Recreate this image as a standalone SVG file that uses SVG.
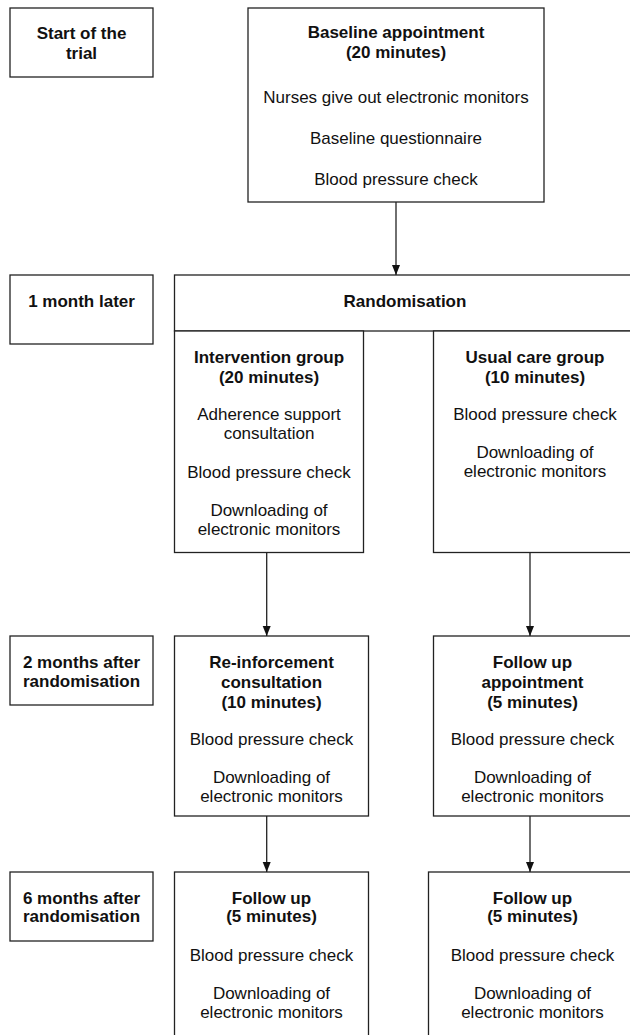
<svg xmlns="http://www.w3.org/2000/svg" width="630" height="1035" viewBox="0 0 630 1035">
<style>
rect.b{fill:#fff;stroke:#222;stroke-width:1.3}
text{font-family:"Liberation Sans",Arial,sans-serif;font-size:17px;fill:#111;text-anchor:middle}
text.h{font-weight:bold}
.c line{stroke:#222;stroke-width:1.3}
</style>
<defs>
<marker id="ah" markerUnits="userSpaceOnUse" markerWidth="10" markerHeight="10" viewBox="0 0 10 10" refX="10" refY="5" orient="auto">
<path d="M0,1 L10,5 L0,9 Z" fill="#111"/>
</marker>
</defs>
<rect width="630" height="1035" fill="#fff"/>

<g id="label-start">
<rect class="b" x="10" y="8" width="143" height="69"/>
<text class="h" x="81.5" y="39">Start of the</text>
<text class="h" x="81.5" y="59">trial</text>
</g>
<g id="label-1month">
<rect class="b" x="10" y="275" width="143" height="69"/>
<text class="h" x="81.5" y="307">1 month later</text>
</g>
<g id="label-2months">
<rect class="b" x="10" y="636" width="143" height="69"/>
<text class="h" x="81.5" y="667.7">2 months after</text>
<text class="h" x="81.5" y="686.7">randomisation</text>
</g>
<g id="label-6months">
<rect class="b" x="10" y="872" width="143" height="69"/>
<text class="h" x="81.5" y="903.7">6 months after</text>
<text class="h" x="81.5" y="922">randomisation</text>
</g>

<g id="baseline">
<rect class="b" x="248" y="8" width="296" height="194"/>
<text class="h" x="396" y="38">Baseline appointment</text>
<text class="h" x="396" y="58">(20 minutes)</text>
<text x="396" y="103">Nurses give out electronic monitors</text>
<text x="396" y="144">Baseline questionnaire</text>
<text x="396" y="185">Blood pressure check</text>
</g>

<g id="randomisation">
<rect class="b" x="174.5" y="275" width="463" height="56"/>
<text class="h" x="405" y="307">Randomisation</text>
</g>

<g id="intervention">
<rect class="b" x="174.5" y="331" width="189" height="221.5"/>
<text class="h" x="269" y="362.7">Intervention group</text>
<text class="h" x="269" y="382.7">(20 minutes)</text>
<text x="269" y="420.3">Adherence support</text>
<text x="269" y="439.3">consultation</text>
<text x="269" y="477.7">Blood pressure check</text>
<text x="269" y="516">Downloading of</text>
<text x="269" y="535.3">electronic monitors</text>
</g>

<g id="usualcare">
<rect class="b" x="433.5" y="331" width="204" height="221.5"/>
<text class="h" x="535" y="362.7">Usual care group</text>
<text class="h" x="535" y="382.7">(10 minutes)</text>
<text x="535" y="420.3">Blood pressure check</text>
<text x="535" y="458.3">Downloading of</text>
<text x="535" y="476.7">electronic monitors</text>
</g>

<g id="reinforcement">
<rect class="b" x="174.5" y="636" width="194" height="180"/>
<text class="h" x="271.5" y="667.7">Re-inforcement</text>
<text class="h" x="271.5" y="687.7">consultation</text>
<text class="h" x="271.5" y="707.7">(10 minutes)</text>
<text x="271.5" y="745">Blood pressure check</text>
<text x="271.5" y="783.3">Downloading of</text>
<text x="271.5" y="802">electronic monitors</text>
</g>

<g id="followup-appointment">
<rect class="b" x="433.5" y="636" width="204" height="180"/>
<text class="h" x="532.5" y="667.7">Follow up</text>
<text class="h" x="532.5" y="687.7">appointment</text>
<text class="h" x="532.5" y="707.7">(5 minutes)</text>
<text x="532.5" y="745">Blood pressure check</text>
<text x="532.5" y="783.3">Downloading of</text>
<text x="532.5" y="802">electronic monitors</text>
</g>

<g id="followup-intervention">
<rect class="b" x="174.5" y="872" width="194" height="175"/>
<text class="h" x="271.5" y="903.7">Follow up</text>
<text class="h" x="271.5" y="922">(5 minutes)</text>
<text x="271.5" y="961">Blood pressure check</text>
<text x="271.5" y="998.7">Downloading of</text>
<text x="271.5" y="1017.7">electronic monitors</text>
</g>

<g id="followup-usualcare">
<rect class="b" x="428.5" y="872" width="209" height="175"/>
<text class="h" x="532.5" y="903.7">Follow up</text>
<text class="h" x="532.5" y="922">(5 minutes)</text>
<text x="532.5" y="961">Blood pressure check</text>
<text x="532.5" y="998.7">Downloading of</text>
<text x="532.5" y="1017.7">electronic monitors</text>
</g>

<g id="connectors" class="c">
<line x1="396" y1="202" x2="396" y2="275" marker-end="url(#ah)"/>
<line x1="266.7" y1="552.5" x2="266.7" y2="636" marker-end="url(#ah)"/>
<line x1="530" y1="552.5" x2="530" y2="636" marker-end="url(#ah)"/>
<line x1="266.7" y1="816" x2="266.7" y2="872" marker-end="url(#ah)"/>
<line x1="530" y1="816" x2="530" y2="872" marker-end="url(#ah)"/>
</g>
</svg>
